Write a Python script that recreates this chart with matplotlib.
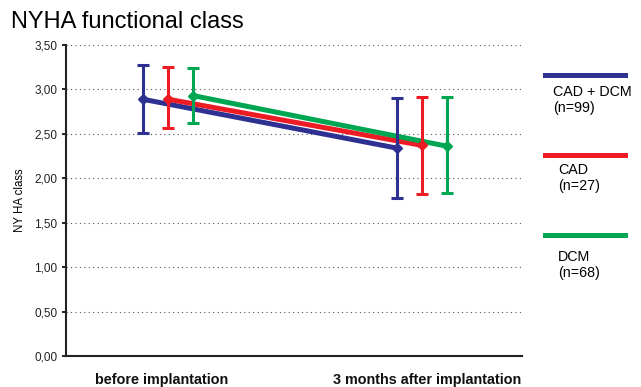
import matplotlib
matplotlib.use("Agg")
import matplotlib.pyplot as plt
import numpy as np

categories = ["before implantation", "3 months after implantation"]
series = ["CAD + DCM\n(n=99)", "CAD\n(n=27)", "DCM\n(n=68)"]
means = {
    "CAD + DCM\n(n=99)": [2.89, 2.34],
    "CAD\n(n=27)": [2.89, 2.37],
    "DCM\n(n=68)": [2.93, 2.36],
}
upper = {
    "CAD + DCM\n(n=99)": [3.27, 2.90],
    "CAD\n(n=27)": [3.25, 2.91],
    "DCM\n(n=68)": [3.24, 2.91],
}
lower = {
    "CAD + DCM\n(n=99)": [2.51, 1.78],
    "CAD\n(n=27)": [2.57, 1.82],
    "DCM\n(n=68)": [2.62, 1.83],
}
yticks = [0.0, 0.5, 1.0, 1.5, 2.0, 2.5, 3.0, 3.5]
ytick_labels = ["0,00", "0,50", "1,00", "1,50", "2,00", "2,50", "3,00", "3,50"]

colors = ["#2e3192", "#ed1c24", "#00a651"]
offsets = [-0.1, 0.0, 0.1]

plt.rcParams['font.family'] = ['Liberation Sans', 'DejaVu Sans']

fig = plt.figure(figsize=(6.41, 3.87), dpi=100)
ax = fig.add_axes([66/641, 31/387, 456/641, 311/387])

x = np.arange(len(categories))
for s, c, off in zip(series, colors, offsets):
    m = np.array(means[s])
    lo = m - np.array(lower[s])
    hi = np.array(upper[s]) - m
    xs = x + off
    ax.plot(xs, m, color=c, lw=3.6, solid_capstyle='butt', zorder=3)
    ax.errorbar(xs, m, yerr=[lo, hi], fmt='D', color=c, ms=5.5, elinewidth=2.2,
                capsize=4, capthick=2.2, zorder=4)

ax.set_xlim(-0.4016, 1.3937)
ax.set_ylim(0, 3.5)
ax.set_yticks(yticks)
ax.set_yticklabels(ytick_labels, fontsize=8.5, color="#222222")
ax.set_xticks(x + np.array([-0.024, 0.02]))
ax.set_xticklabels(categories, fontsize=10.4, fontweight='bold', color="#111111")
ax.tick_params(axis='x', length=0, pad=12)
ax.tick_params(axis='y', length=3, width=1.2, direction='out', pad=3)
for yv in yticks[1:]:
    ax.axhline(yv, color="#555555", lw=0.8, ls=(0, (1, 3)), zorder=1)
for sp in ["top", "right"]:
    ax.spines[sp].set_visible(False)
ax.spines["left"].set_linewidth(1.5)
ax.spines["bottom"].set_linewidth(1.5)
ax.spines["left"].set_color("#222222")
ax.spines["bottom"].set_color("#222222")

ax.set_ylabel("NY HA class", fontsize=8.3, labelpad=6)

fig.text(11/641, 1 - 22/387, "NYHA functional class", fontsize=17, va='center', ha='left')

# legend at right
leg_y = [74.5, 155, 235]
txt_y = [100, 178, 265]
txt_x = [553, 558, 558]
for s, c, ly, ty, tx in zip(series, colors, leg_y, txt_y, txt_x):
    fig.add_artist(plt.Line2D([545/641, 625/641], [1 - ly/387, 1 - ly/387],
                              color=c, lw=3.6, transform=fig.transFigure))
    fig.text(tx/641, 1 - ty/387, s, fontsize=10.3, va='center', ha='left',
             linespacing=1.15)

fig.savefig("out.png", dpi=100)
